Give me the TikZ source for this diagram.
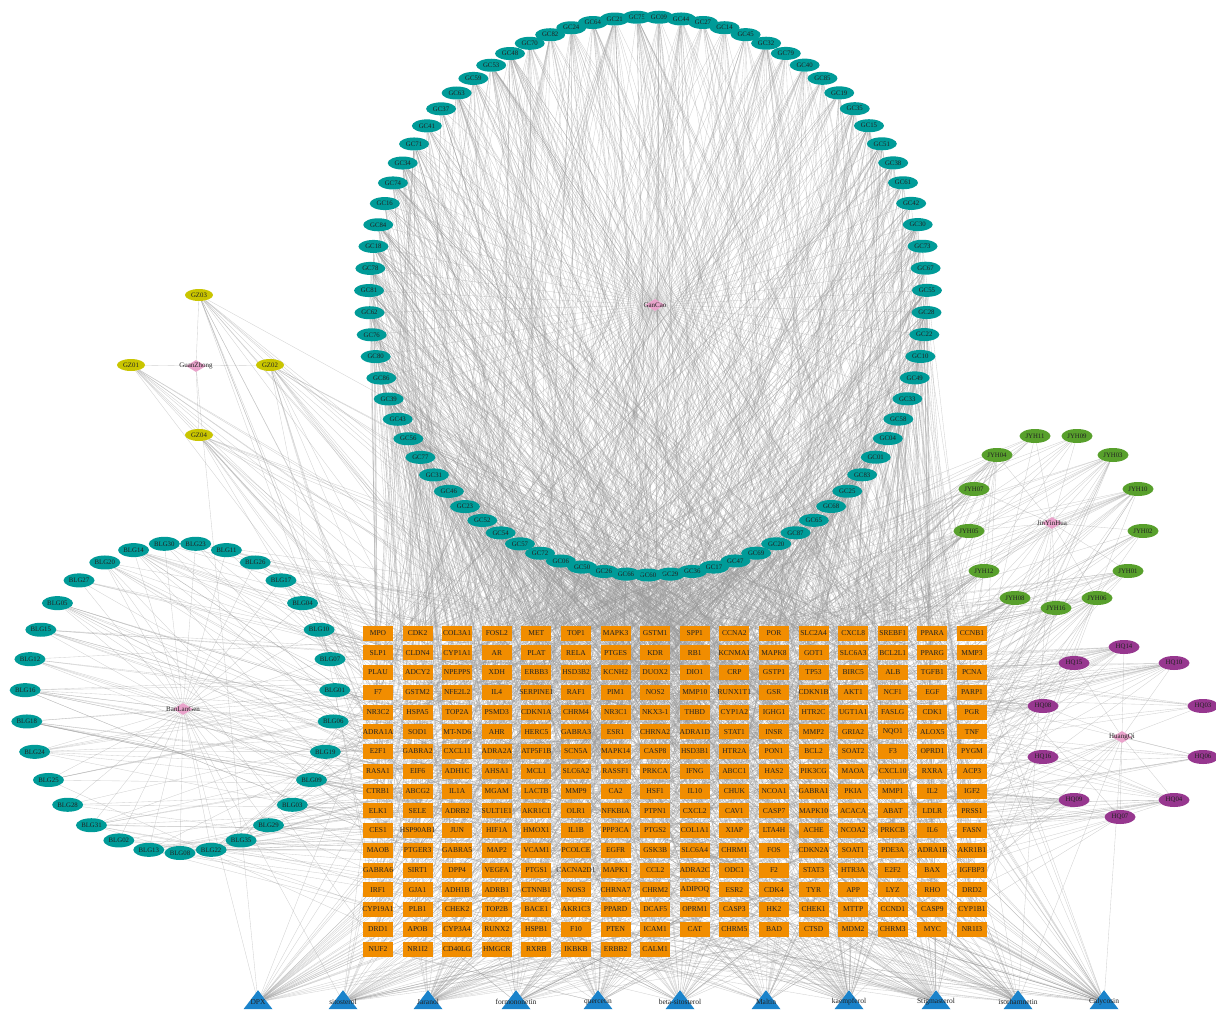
\documentclass[tikz,border=0pt]{standalone}
\usepackage{fontspec}
\setmainfont{Liberation Serif}
\usetikzlibrary{shapes.geometric,backgrounds}
\definecolor{gcteal}{HTML}{009B98}
\definecolor{gzyellow}{HTML}{C9C500}
\definecolor{jyhgreen}{HTML}{58A02C}
\definecolor{hqpurple}{HTML}{97378F}
\definecolor{geneorange}{HTML}{F18D00}
\definecolor{cmpblue}{HTML}{1A83CB}
\definecolor{hubpink}{HTML}{E9A3CB}
\definecolor{edgegray}{HTML}{9A9A9A}
\definecolor{ink}{HTML}{222222}
\tikzset{
  % ingredient of one herb: small ellipse with its code
  cmp/.style={ellipse, draw=none, inner sep=0pt,
    minimum width=30pt, minimum height=13pt,
    font=\fontsize{6.8}{7}\selectfont, text=ink},
  gc/.style={cmp, fill=gcteal},
  blg/.style={cmp, fill=gcteal, minimum width=31pt, minimum height=14pt},
  gz/.style={cmp, fill=gzyellow, minimum width=28pt, minimum height=12pt},
  jyh/.style={cmp, fill=jyhgreen, minimum width=31pt, minimum height=14pt},
  hq/.style={cmp, fill=hqpurple, minimum width=31pt, minimum height=14pt},
  % herb: pink diamond, name laid over it
  hub/.style={diamond, fill=hubpink, inner sep=0pt,
    minimum width=20pt, minimum height=12pt},
  hublbl/.style={font=\fontsize{7}{7}\selectfont, text=ink, inner sep=0pt},
  % target gene
  gene/.style={rectangle, fill=geneorange, inner sep=0pt,
    minimum width=30pt, minimum height=15pt,
    font=\fontsize{7.5}{8}\selectfont, text=ink},
  % shared ingredient
  tri/.style={isosceles triangle, shape border rotate=90,
    isosceles triangle stretches, fill=cmpblue, inner sep=0pt,
    minimum width=29pt, minimum height=19pt},
  trilbl/.style={font=\fontsize{7.5}{8}\selectfont, text=ink, inner sep=0pt},
  edge/.style={draw=edgegray, line width=.35pt, opacity=.45},
}
\newcommand{\hub}[3]{%
  \node[hub, label={[hublbl]center:#3}] (#1) at (#2) {};}
\newcommand{\links}[3]{% from node #1: #2 to #3 random genes
  \pgfmathrandominteger{\deg}{#2}{#3}%
  \foreach \n in {1,...,\deg} {%
    \pgfmathrandominteger{\k}{1}{264}%
    \draw[edge] (#1) -- (g\k);}}

\def\gclist{GC75,GC09,GC44,GC27,GC14,GC45,GC32,GC79,GC40,GC85,GC19,GC35,GC15,
  GC51,GC38,GC61,GC42,GC30,GC73,GC67,GC55,GC28,GC22,GC10,GC49,GC33,GC58,GC04,
  GC01,GC83,GC25,GC68,GC65,GC87,GC20,GC69,GC47,GC17,GC36,GC29,GC60,GC66,GC26,
  GC50,GC06,GC72,GC57,GC54,GC52,GC23,GC46,GC31,GC77,GC56,GC43,GC39,GC86,GC80,
  GC76,GC62,GC81,GC78,GC18,GC84,GC16,GC74,GC34,GC71,GC41,GC37,GC63,GC59,GC53,
  GC48,GC70,GC82,GC24,GC64,GC21}
\def\blglist{BLG30,BLG23,BLG11,BLG26,BLG17,BLG04,BLG10,BLG07,BLG01,BLG06,BLG19,
  BLG09,BLG03,BLG29,BLG35,BLG22,BLG08,BLG13,BLG02,BLG31,BLG28,BLG25,BLG24,BLG18,
  BLG16,BLG12,BLG15,BLG05,BLG27,BLG20,BLG14}
\def\gzlist{GZ03/199/295,GZ01/131/365,GZ02/270/365,GZ04/199/435}
\def\jyhlist{JYH11/1035/436,JYH09/1077/436,JYH04/997/455,JYH03/1113/455,
  JYH07/974/489,JYH10/1138/489,JYH05/969/531,JYH02/1143/531,JYH12/984/571,
  JYH01/1128/571,JYH08/1015/598,JYH06/1097/598,JYH16/1056/608}
\def\hqlist{HQ14/1124/647,HQ15/1074/663,HQ10/1174/663,HQ08/1043/706,
  HQ03/1203/706,HQ16/1043/757,HQ06/1203/757,HQ09/1074/800,HQ04/1174/800,
  HQ07/1120/817}

\begin{document}
\begin{tikzpicture}[x=1pt,y=-1pt]
\useasboundingbox (0,0) rectangle (1216,1010);
\pgfmathsetseed{2024}

% ----- herbs -----
\hub{GanCao}{655,305}{GanCao}
\hub{GuanZhong}{196,366}{GuanZhong}
\hub{BanLanGen}{183,709}{BanLanGen}
\hub{JinYinHua}{1052,523}{JinYinHua}
\hub{HuangQi}{1122,737}{HuangQi}

% ----- GanCao ring -----
\foreach \nm [count=\i] in \gclist {
  \pgfmathsetmacro{\ang}{92.3-(\i-1)*4.5570}
  \node[gc] (\nm) at ({648+279*cos(\ang)},{296-279*sin(\ang)}) {\nm};
}

% ----- BanLanGen ring -----
\foreach \nm [count=\i] in \blglist {
  \pgfmathsetmacro{\ang}{95.806-(\i-1)*11.6129}
  \node[blg] (\nm) at ({180+155*cos(\ang)},{698-155*sin(\ang)}) {\nm};
}

% ----- GuanZhong, JinYinHua, HuangQi -----
\foreach \nm/\x/\y in \gzlist {\node[gz] (\nm) at (\x,\y) {\nm};}
\foreach \nm/\x/\y in \jyhlist {\node[jyh] (\nm) at (\x,\y) {\nm};}
\foreach \nm/\x/\y in \hqlist {\node[hq] (\nm) at (\x,\y) {\nm};}

% ----- target genes, 16 per row -----
\foreach \row [count=\r] in {
  {MPO,CDK2,COL3A1,FOSL2,MET,TOP1,MAPK3,GSTM1,SPP1,CCNA2,POR,SLC2A4,CXCL8,SREBF1,PPARA,CCNB1},
  {SLP1,CLDN4,CYP1A1,AR,PLAT,RELA,PTGES,KDR,RB1,KCNMA1,MAPK8,GOT1,SLC6A3,BCL2L1,PPARG,MMP3},
  {PLAU,ADCY2,NPEPPS,XDH,ERBB3,HSD3B2,KCNH2,DUOX2,DIO1,CRP,GSTP1,TP53,BIRC5,ALB,TGFB1,PCNA},
  {F7,GSTM2,NFE2L2,IL4,SERPINE1,RAF1,PIM1,NOS2,MMP10,RUNX1T1,GSR,CDKN1B,AKT1,NCF1,EGF,PARP1},
  {NR3C2,HSPA5,TOP2A,PSMD3,CDKN1A,CHRM4,NR3C1,NKX3-1,THBD,CYP1A2,IGHG1,HTR2C,UGT1A1,FASLG,CDK1,PGR},
  {ADRA1A,SOD1,MT-ND6,AHR,HERC5,GABRA3,ESR1,CHRNA2,ADRA1D,STAT1,INSR,MMP2,GRIA2,NQO1,ALOX5,TNF},
  {E2F1,GABRA2,CXCL11,ADRA2A,ATP5F1B,SCN5A,MAPK14,CASP8,HSD3B1,HTR2A,PON1,BCL2,SOAT2,F3,OPRD1,PYGM},
  {RASA1,EIF6,ADH1C,AHSA1,MCL1,SLC6A2,RASSF1,PRKCA,IFNG,ABCC1,HAS2,PIK3CG,MAOA,CXCL10,RXRA,ACP3},
  {CTRB1,ABCG2,IL1A,MGAM,LACTB,MMP9,CA2,HSF1,IL10,CHUK,NCOA1,GABRA1,PKIA,MMP1,IL2,IGF2},
  {ELK1,SELE,ADRB2,SULT1E1,AKR1C1,OLR1,NFKBIA,PTPN1,CXCL2,CAV1,CASP7,MAPK10,ACACA,ABAT,LDLR,PRSS1},
  {CES1,HSP90AB1,JUN,HIF1A,HMOX1,IL1B,PPP3CA,PTGS2,COL1A1,XIAP,LTA4H,ACHE,NCOA2,PRKCB,IL6,FASN},
  {MAOB,PTGER3,GABRA5,MAP2,VCAM1,PCOLCE,EGFR,GSK3B,SLC6A4,CHRM1,FOS,CDKN2A,SOAT1,PDE3A,ADRA1B,AKR1B1},
  {GABRA6,SIRT1,DPP4,VEGFA,PTGS1,CACNA2D1,MAPK1,CCL2,ADRA2C,ODC1,F2,STAT3,HTR3A,E2F2,BAX,IGFBP3},
  {IRF1,GJA1,ADH1B,ADRB1,CTNNB1,NOS3,CHRNA7,CHRM2,ADIPOQ,ESR2,CDK4,TYR,APP,LYZ,RHO,DRD2},
  {CYP19A1,PLB1,CHEK2,TOP2B,BACE1,AKR1C3,PPARD,DCAF5,OPRM1,CASP3,HK2,CHEK1,MTTP,CCND1,CASP9,CYP1B1},
  {DRD1,APOB,CYP3A4,RUNX2,HSPB1,F10,PTEN,ICAM1,CAT,CHRM5,BAD,CTSD,MDM2,CHRM3,MYC,NR1I3},
  {NUF2,NR1I2,CD40LG,HMGCR,RXRB,IKBKB,ERBB2,CALM1}} {
  \foreach \gene [count=\c] in \row {
    \pgfmathtruncatemacro{\k}{(\r-1)*16+\c}
    \node[gene] (g\k) at ({378+39.6*(\c-1)},{633+19.75*(\r-1)}) {\makebox[0pt]{\gene}};
  }
}

% ----- shared ingredients -----
\foreach \nm/\x [count=\i] in {DPX/258,sitosterol/343,Jaranol/428,
  formononetin/516,quercetin/598,beta-sitosterol/680,Maltin/766,
  kaempferol/849,Stigmasterol/936,isorhamnetin/1018,Calycosin/1104} {
  \node[tri, label={[trilbl]center:\nm}] (t\i) at (\x,1002) {};
}

% ----- edges, behind everything -----
\begin{scope}[on background layer]
\fill[white] (0,0) rectangle (1216,1010);
\foreach \nm in \gclist {\draw[edge] (GanCao) -- (\nm); \links{\nm}{12}{26}}
\foreach \nm in \blglist {\draw[edge] (BanLanGen) -- (\nm); \links{\nm}{3}{12}}
\foreach \nm/\x/\y in \gzlist {\draw[edge] (GuanZhong) -- (\nm); \links{\nm}{8}{18}}
\foreach \nm/\x/\y in \jyhlist {\draw[edge] (JinYinHua) -- (\nm); \links{\nm}{6}{18}}
\foreach \nm/\x/\y in \hqlist {\draw[edge] (HuangQi) -- (\nm); \links{\nm}{6}{20}}
\foreach \i in {1,...,11} {\links{t\i}{30}{60}}
% shared ingredients back to the herbs
\foreach \a/\b in {t1/BanLanGen,t1/GuanZhong,t2/BanLanGen,t2/GanCao,
  t3/HuangQi,t3/JinYinHua,t4/HuangQi,t4/GanCao,t5/GanCao,t5/JinYinHua,
  t5/HuangQi,t6/BanLanGen,t6/JinYinHua,t7/HuangQi,t7/GanCao,
  t8/JinYinHua,t8/HuangQi,t8/GanCao,t9/BanLanGen,t9/JinYinHua,
  t10/HuangQi,t10/JinYinHua,t11/HuangQi,t11/GanCao}
  {\draw[edge] (\a) -- (\b);}
\end{scope}

\end{tikzpicture}
\end{document}
